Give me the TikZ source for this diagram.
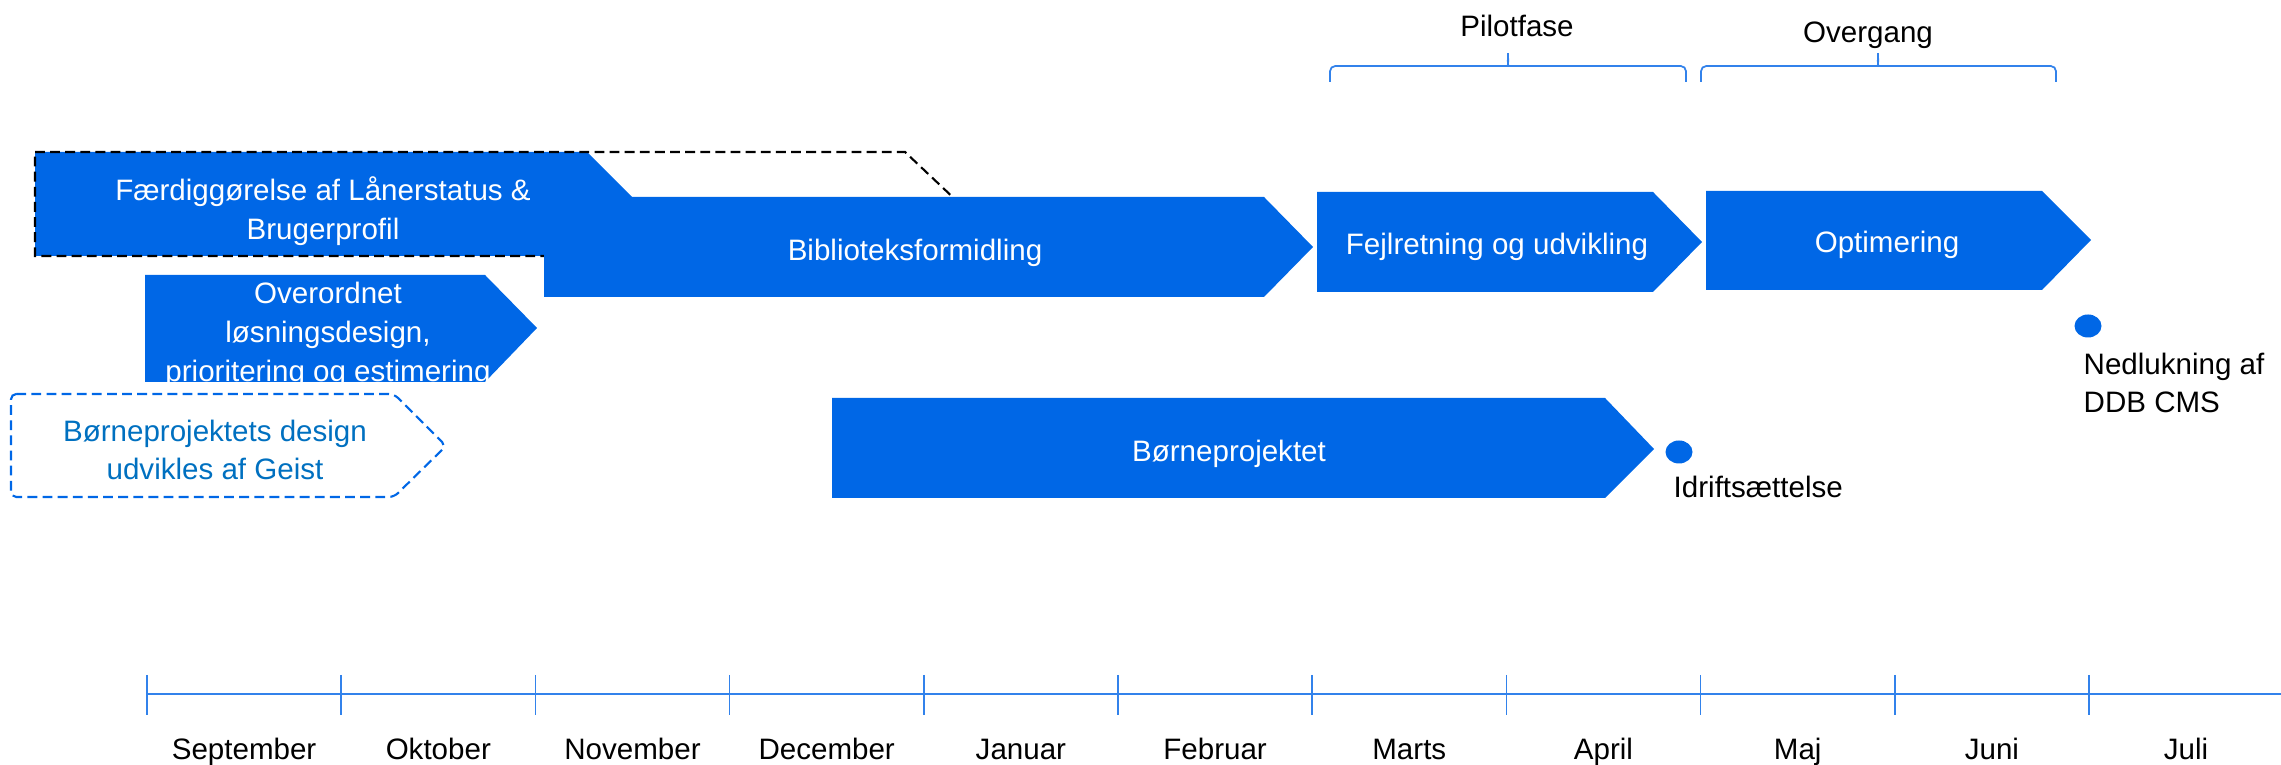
\documentclass[tikz,border=0pt]{standalone}
\usepackage{fontspec}
\setmainfont{Liberation Sans}
\usetikzlibrary{shapes.geometric}

\definecolor{barblue}{RGB}{0,103,230}
\definecolor{lineblue}{RGB}{50,130,235}
\definecolor{txtblue}{RGB}{0,112,192}

\begin{document}
\begin{tikzpicture}[x=0.01cm,y=-0.01cm,
  every node/.style={font=\fontsize{8.4}{11}\selectfont,inner sep=0pt},
  bar/.style={fill=barblue},
  bartxt/.style={text=white,align=center},
  plan/.style={draw,line width=0.6pt,dash pattern=on 2.8pt off 1.5pt},
  brc/.style={draw=lineblue,line width=0.5pt,rounded corners=1.5pt},
  dot/.style={ellipse,fill=barblue,minimum width=0.27cm,minimum height=0.23cm},
  month/.style={anchor=base}]
\useasboundingbox (0,0) rectangle (2281,765);

% Phases
\draw[brc] (1330,82) |- (1502,66) to[out=0,in=-90] (1508,50) to[out=-90,in=180] (1514,66) -| (1686,82);
\node[anchor=base] (pilot) at (1517,37) {Pilotfase};
\draw[brc] (1701,82) |- (1872,66) to[out=0,in=-90] (1878,50) to[out=-90,in=180] (1884,66) -| (2056,82);
\node[anchor=base] (overgang) at (1868,43) {Overgang};

% Before pilot
\fill[bar] (35,152) -- (587,152) -- (639,204) -- (587,256) -- (35,256) -- cycle;
\draw[plan] (35,152) -- (905,152) -- (960,204) -- (905,256) -- (35,256) -- cycle;
\fill[bar] (544,197) -- (1264,197) -- (1313,247) -- (1264,297) -- (544,297) -- cycle;
\fill[bar] (145,275) -- (485,275) -- (537,328) -- (485,382) -- (145,382) -- cycle;
\node[bartxt] (laaner) at (323,211) {Færdiggørelse af Lånerstatus \&\\Brugerprofil};
\node[bartxt,anchor=base] (bib) at (915,261) {Biblioteksformidling};
\node[bartxt] (design) at (328,335) {Overordnet\\løsningsdesign,\\prioritering og estimering};

\draw[plan,draw=barblue,rounded corners=1.5pt] (11,394) -- (394,394) -- (446,446) -- (394,497) -- (11,497) -- cycle;
\node[text=txtblue,align=center] (geist) at (215,450) {Børneprojektets design\\udvikles af Geist};

\fill[bar] (832,398) -- (1605,398) -- (1654,449) -- (1605,498) -- (832,498) -- cycle;
\node[bartxt,anchor=base] (boern) at (1229,462) {Børneprojektet};

% Pilot and transition
\fill[bar] (1317,192) -- (1653,192) -- (1702,242) -- (1653,292) -- (1317,292) -- cycle;
\node[bartxt,anchor=base] (fejl) at (1497,255) {Fejlretning og udvikling};
\fill[bar] (1706,191) -- (2042,191) -- (2091,240) -- (2042,290) -- (1706,290) -- cycle;
\node[bartxt,anchor=base] (opt) at (1887,253) {Optimering};

% Milestones
\node[dot] (idr) at (1679,452) {};
\node[anchor=base west] (idrtxt) at (1673,498) {Idriftsættelse};
\node[dot] (ned) at (2088,326) {};
\node[anchor=west,align=left] (nedtxt) at (2083,383) {Nedlukning af\\DDB CMS};

% Timeline
\draw[lineblue,line width=0.5pt] (147,694) -- (2281,694);
\foreach \i in {0,...,10}
  \draw[lineblue,line width=0.5pt] ({147+194.2*\i},675) -- ({147+194.2*\i},715);
\foreach \m [count=\i from 0] in {September,Oktober,November,December,Januar,Februar,Marts,April,Maj,Juni,Juli}
  \node[month] (m\i) at ({244.1+194.2*\i},760) {\m};
\end{tikzpicture}
\end{document}
